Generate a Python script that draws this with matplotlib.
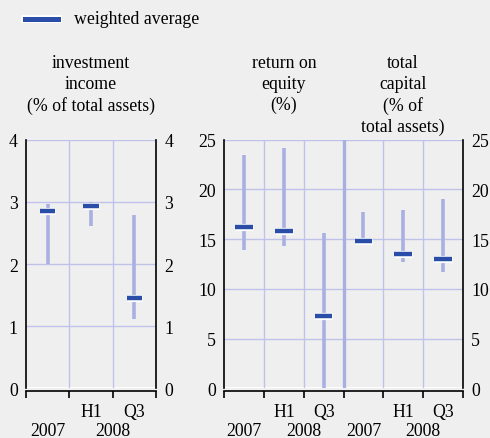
import matplotlib
matplotlib.use("Agg")
import matplotlib.pyplot as plt
import matplotlib.patheffects as pe

plt.rcParams['font.family'] = ['Liberation Serif', 'DejaVu Serif']
FS = 12.8

periods = ["2007", "H1 2008", "Q3 2008"]
# investment income (% of total assets)
inv_low = [2.00, 2.61, 1.12]
inv_high = [2.96, 3.00, 2.79]
inv_avg = [2.86, 2.93, 1.45]
# return on equity (%)
roe_low = [13.9, 14.3, 0.0]
roe_high = [23.5, 24.2, 15.6]
roe_avg = [16.2, 15.8, 7.3]
# total capital (% of total assets)
tc_low = [14.4, 12.7, 11.7]
tc_high = [17.7, 17.9, 19.0]
tc_avg = [14.85, 13.5, 13.0]

BG = "#efefef"
GRID = "#bfc3ea"
RANGE = "#a9b0e1"
AVG = "#2a4ea8"

fig = plt.figure(figsize=(4.9, 4.39), dpi=100, facecolor=BG)

def style(ax, ymax, step, nx):
    ax.set_facecolor(BG)
    ax.set_xlim(-0.5, nx - 0.5)
    ax.set_ylim(0, ymax)
    for y in range(step, ymax + 1, step):
        ax.axhline(y, color=GRID, lw=1.0, zorder=1)
    ax.axhline(0, color="white", lw=1.5, zorder=1)
    for x in [i + 0.5 for i in range(nx - 1)]:
        ax.axvline(x, color=GRID, lw=1.0, zorder=1)
    ax.spines["top"].set_visible(False)
    for s in ["left", "right", "bottom"]:
        ax.spines[s].set_color("black")
        ax.spines[s].set_linewidth(1.2)
    ax.spines["bottom"].set_position(("outward", 2))
    ax.set_yticks(range(0, ymax + 1, step))
    ax.tick_params(axis="y", length=0, labelsize=FS, left=True, right=True,
                   labelleft=True, labelright=True, pad=6)
    ax.set_xticks([i - 0.5 for i in range(nx + 1)])
    ax.set_xticklabels([])
    ax.tick_params(axis="x", direction="out", length=5, width=1.2, color="black")

def draw(ax, xs, low, high, avg, hw):
    ax.vlines(xs, low, high, color=RANGE, lw=2.6, zorder=2)
    ax.hlines(avg, [x - hw for x in xs], [x + hw for x in xs], color=AVG, lw=3.2, zorder=3,
              path_effects=[pe.Stroke(linewidth=5.2, foreground="white"), pe.Normal()])

def xlabels(ax, offset):
    tr = ax.get_xaxis_transform()
    ax.text(offset + 1, -0.095, "H1", transform=tr, ha="center", va="center", fontsize=FS)
    ax.text(offset + 2, -0.095, "Q3", transform=tr, ha="center", va="center", fontsize=FS)
    ax.text(offset + 0, -0.168, "2007", transform=tr, ha="center", va="center", fontsize=FS)
    ax.text(offset + 1.5, -0.168, "2008", transform=tr, ha="center", va="center", fontsize=FS)

ax1 = fig.add_axes([0.0531, 0.1132, 0.2653, 0.5663])
style(ax1, 4, 1, 3)
draw(ax1, range(3), inv_low, inv_high, inv_avg, 0.175)
xlabels(ax1, 0)

ax2 = fig.add_axes([0.4578, 0.1132, 0.4865, 0.5663])
style(ax2, 25, 5, 6)
ax2.axvline(2.5, color=RANGE, lw=2.4, zorder=2)
draw(ax2, range(3), roe_low, roe_high, roe_avg, 0.22)
draw(ax2, range(3, 6), tc_low, tc_high, tc_avg, 0.22)
xlabels(ax2, 0)
xlabels(ax2, 3)

# titles
TOP = 1 - 55 / 439
fig.text(91 / 490, TOP, "investment\nincome\n(% of total assets)", ha="center", va="top",
         fontsize=FS, linespacing=1.3)
fig.text(284 / 490, TOP, "return on\nequity\n(%)", ha="center", va="top",
         fontsize=FS, linespacing=1.3)
fig.text(403 / 490, TOP, "total\ncapital\n(% of\ntotal assets)", ha="center", va="top",
         fontsize=FS, linespacing=1.3)

# legend
fig.add_artist(plt.Line2D([25 / 490, 58 / 490], [1 - 20 / 439, 1 - 20 / 439], color=AVG, lw=3.6,
                          path_effects=[pe.Stroke(linewidth=5.6, foreground="white"), pe.Normal()]))
fig.text(74 / 490, 1 - 20 / 439, "weighted average", ha="left", va="center", fontsize=FS)

fig.savefig("out.png", dpi=100, facecolor=BG)
